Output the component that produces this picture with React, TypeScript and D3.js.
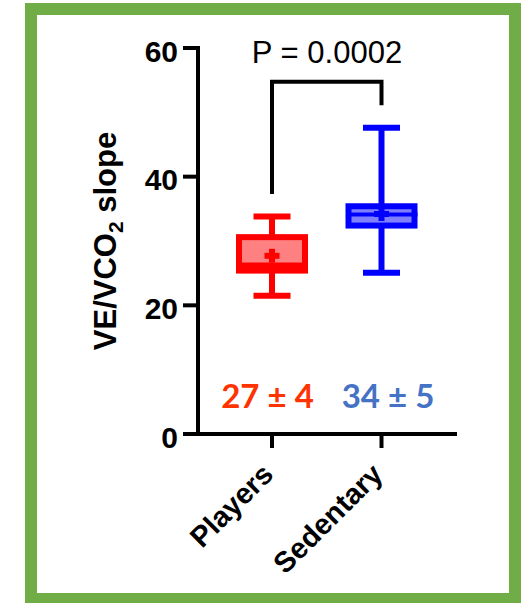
import React from "react";
import * as d3 from "d3";

const groups = ["Players", "Sedentary"];
const whiskerMin = [21.5, 25.05];
const q1 = [25.4, 32.4];
const median = [26.2, 34.1];
const q3 = [30.6, 35.4];
const whiskerMax = [33.8, 47.6];
const means = [27.7, 34.2];
const strokeColors = ["#ff0000", "#0000ff"];
const fillColors = ["#ff8080", "#8080ff"];
const summaryLabels = ["27 ± 4", "34 ± 5"];
const summaryColors = ["#ff3300", "#4472c4"];
const yTicks = [0, 20, 40, 60];
const pLabel = "P = 0.0002";
const bracketTop = 54.76;
const bracketEnds = [37.3, 51.1];

export default function App() {
  const y = d3.scaleLinear().domain([0, 60]).range([434, 48]);
  const x = d3.scalePoint().domain(groups).range([272, 381.5]);
  const axisX = 198;
  const boxW = 66;
  const capW = 37;
  const font = "'Liberation Sans', Arial, sans-serif";

  return (
    <svg width={524} height={603} style={{ position: "absolute", left: 0, top: 0 }}>
      <rect x={0} y={0} width={524} height={603} fill="#ffffff" />
      <rect x={31} y={9} width={484} height={590} fill="none" stroke="#70ad47" strokeWidth={12} />

      {/* y axis */}
      <line x1={axisX} x2={axisX} y1={y(60) - 2} y2={y(0) + 2} stroke="#000" strokeWidth={4} />
      {yTicks.map((t) => (
        <g key={t}>
          <line x1={axisX - 15} x2={axisX} y1={y(t)} y2={y(t)} stroke="#000" strokeWidth={4} />
          <text x={178} y={y(t) + 13.5} textAnchor="end" fontFamily={font} fontWeight="bold" fontSize={30}>
            {t}
          </text>
        </g>
      ))}
      {/* x axis */}
      <line x1={axisX} x2={457} y1={y(0)} y2={y(0)} stroke="#000" strokeWidth={4} />
      {groups.map((g) => (
        <g key={g}>
          <line x1={x(g)} x2={x(g)} y1={y(0)} y2={y(0) + 14} stroke="#000" strokeWidth={4} />
          <text
            transform={`translate(${(x(g) as number) + 3},${476}) rotate(-45)`}
            textAnchor="end"
            fontFamily={font}
            fontWeight="bold"
            fontSize={29}
          >
            {g}
          </text>
        </g>
      ))}

      {/* y label */}
      <text
        transform={`translate(116,241) rotate(-90)`}
        textAnchor="middle"
        fontFamily={font}
        fontWeight="bold"
        fontSize={31}
      >
        VE/VCO
        <tspan fontSize={21} dy={7}>2</tspan>
        <tspan dy={-7}> slope</tspan>
      </text>

      {/* boxes */}
      {groups.map((g, i) => {
        const cx = x(g) as number;
        const c = strokeColors[i];
        return (
          <g key={g}>
            <line x1={cx} x2={cx} y1={y(q3[i])} y2={y(whiskerMax[i])} stroke={c} strokeWidth={6} />
            <line x1={cx} x2={cx} y1={y(q1[i])} y2={y(whiskerMin[i])} stroke={c} strokeWidth={6} />
            <line x1={cx - capW / 2} x2={cx + capW / 2} y1={y(whiskerMax[i])} y2={y(whiskerMax[i])} stroke={c} strokeWidth={6} />
            <line x1={cx - capW / 2} x2={cx + capW / 2} y1={y(whiskerMin[i])} y2={y(whiskerMin[i])} stroke={c} strokeWidth={6} />
            <rect
              x={cx - boxW / 2}
              y={y(q3[i])}
              width={boxW}
              height={y(q1[i]) - y(q3[i])}
              fill={fillColors[i]}
              stroke={c}
              strokeWidth={6}
            />
            <line x1={cx - boxW / 2} x2={cx + boxW / 2 + 3} y1={y(median[i])} y2={y(median[i])} stroke={c} strokeWidth={i === 0 ? 6 : 4} />
            <line x1={cx - 7.5} x2={cx + 7.5} y1={y(means[i])} y2={y(means[i])} stroke={c} strokeWidth={6} />
            <line x1={cx} x2={cx} y1={y(means[i]) - 7} y2={y(means[i]) + 7} stroke={c} strokeWidth={6} />
          </g>
        );
      })}

      {/* significance bracket */}
      <path
        d={`M${x(groups[0])},${y(bracketEnds[0])}V${y(bracketTop)}H${x(groups[1])}V${y(bracketEnds[1])}`}
        fill="none"
        stroke="#000"
        strokeWidth={4}
      />
      <text x={327} y={63} textAnchor="middle" fontFamily={font} fontSize={31}>
        {pLabel}
      </text>

      {/* summary labels */}
      {summaryLabels.map((s, i) => (
        <text
          key={s}
          x={[267.5, 388][i]}
          y={407.7}
          textAnchor="middle"
          fontFamily="Lato, 'Open Sans', sans-serif"
          fontWeight="bold"
          fontSize={33}
          fill={summaryColors[i]}
        >
          {s}
        </text>
      ))}
    </svg>
  );
}
